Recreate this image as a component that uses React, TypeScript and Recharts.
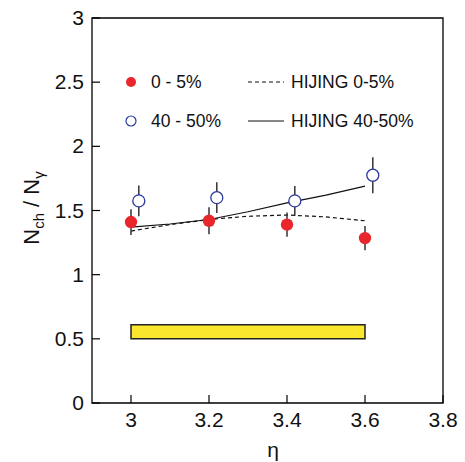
import {
  ComposedChart,
  Scatter,
  Line,
  XAxis,
  YAxis,
  ErrorBar,
  ReferenceArea,
} from "recharts";

const etaCentral = [3.0, 3.2, 3.4, 3.6];
const ratioCentral = [1.41, 1.42, 1.39, 1.285];
const errCentral = [0.1, 0.105, 0.095, 0.095];

const etaPeripheral = [3.02, 3.22, 3.42, 3.62];
const ratioPeripheral = [1.575, 1.6, 1.575, 1.775];
const errPeripheral = [0.12, 0.12, 0.115, 0.14];

const etaHijing = [3.0, 3.1, 3.2, 3.3, 3.4, 3.5, 3.6];
const hijingCentral = [1.34, 1.39, 1.43, 1.455, 1.465, 1.45, 1.42];
const hijingPeripheral = [1.37, 1.395, 1.43, 1.49, 1.56, 1.62, 1.69];

const sysBand = { x1: 3.0, x2: 3.6, y1: 0.5, y2: 0.61 };

const xTicks = [3, 3.2, 3.4, 3.6, 3.8];
const yTicks = [0, 0.5, 1, 1.5, 2, 2.5, 3];

const central = etaCentral.map((x, i) => ({ x, y: ratioCentral[i], err: errCentral[i] }));
const peripheral = etaPeripheral.map((x, i) => ({ x, y: ratioPeripheral[i], err: errPeripheral[i] }));
const hijing0 = etaHijing.map((x, i) => ({ x, y: hijingCentral[i] }));
const hijing40 = etaHijing.map((x, i) => ({ x, y: hijingPeripheral[i] }));

const FONT = "'Liberation Sans', Arial, Helvetica, sans-serif";

const XTick = (props: any) => {
  const { x, y, payload } = props;
  return (
    <g>
      <line x1={x} y1={y} x2={x} y2={y - 8} stroke="#000" strokeWidth={1.2} />
      <text x={x} y={y + 24} textAnchor="middle" fontSize={21} fontFamily={FONT} fill="#111">
        {payload.value}
      </text>
    </g>
  );
};

const YTick = (props: any) => {
  const { x, y, payload } = props;
  return (
    <g>
      <line x1={x} y1={y} x2={x + 8} y2={y} stroke="#000" strokeWidth={1.2} />
      <text x={x - 8} y={y + 7} textAnchor="end" fontSize={21} fontFamily={FONT} fill="#111">
        {payload.value}
      </text>
    </g>
  );
};

export default function App() {
  return (
    <div style={{ position: "absolute", left: 0, top: 0, width: 465, height: 462, background: "#fff" }}>
      <ComposedChart width={465} height={462} margin={{ top: 18, right: 22, bottom: 0, left: 32 }}>
        <XAxis
          dataKey="x"
          type="number"
          domain={[2.9, 3.8]}
          ticks={xTicks}
          allowDataOverflow
          axisLine={false}
          tickLine={false}
          tickSize={0}
          tickMargin={0}
          height={59}
          tick={<XTick />}
          interval={0}
        />
        <YAxis
          dataKey="y"
          type="number"
          domain={[0, 3]}
          ticks={yTicks}
          allowDataOverflow
          axisLine={false}
          tickLine={false}
          tickSize={0}
          tickMargin={0}
          width={60}
          tick={<YTick />}
          interval={0}
        />
        <ReferenceArea x1={2.9} x2={3.8} y1={0} y2={3} fill="none" stroke="#000" strokeWidth={1.3} />
        <ReferenceArea
          x1={sysBand.x1}
          x2={sysBand.x2}
          y1={sysBand.y1}
          y2={sysBand.y2}
          fill="#fae62c"
          fillOpacity={1}
          stroke="#222"
          strokeWidth={1.5}
        />
        <Line data={hijing0} dataKey="y" stroke="#111" strokeWidth={1.2} strokeDasharray="4 3" dot={false} isAnimationActive={false} />
        <Line data={hijing40} dataKey="y" stroke="#111" strokeWidth={1.2} dot={false} isAnimationActive={false} />
        <Scatter data={central} dataKey="y" fill="#e8262b" isAnimationActive={false}
          shape={(p: any) => <circle cx={p.cx} cy={p.cy} r={6.2} fill="#e8262b" />}>
          <ErrorBar dataKey="err" direction="y" width={0} stroke="#333" strokeWidth={1.5} />
        </Scatter>
        <Scatter data={peripheral} dataKey="y" fill="#fff" isAnimationActive={false}
          shape={(p: any) => <circle cx={p.cx} cy={p.cy} r={6} fill="#fff" stroke="#2a3a9e" strokeWidth={1.3} />}>
          <ErrorBar dataKey="err" direction="y" width={0} stroke="#333" strokeWidth={1.5} />
        </Scatter>
      </ComposedChart>
      <svg width={465} height={462} style={{ position: "absolute", left: 0, top: 0, pointerEvents: "none" }}>
        <g fontFamily={FONT} fill="#111">
          <circle cx={131} cy={82} r={5} fill="#e8262b" />
          <text x={151} y={88} fontSize={17.5}>0 - 5%</text>
          <circle cx={131} cy={121} r={5} fill="#fff" stroke="#2a3a9e" strokeWidth={1.2} />
          <text x={151} y={127} fontSize={17.5}>40 - 50%</text>
          <line x1={248} y1={82} x2={284} y2={82} stroke="#111" strokeWidth={1.2} strokeDasharray="4 3" />
          <text x={291} y={88} fontSize={17.5}>HIJING 0-5%</text>
          <line x1={248} y1={121} x2={284} y2={121} stroke="#111" strokeWidth={1.2} />
          <text x={291} y={127} fontSize={17.5}>HIJING 40-50%</text>
          <text x={273} y={457} fontSize={21} textAnchor="middle">η</text>
          <text transform="translate(39 208) rotate(-90)" fontSize={22} textAnchor="middle">
            N<tspan fontSize={15} dy={5}>ch</tspan>
            <tspan dy={-5}> / N</tspan>
            <tspan fontSize={15} dy={5}>γ</tspan>
          </text>
        </g>
      </svg>
    </div>
  );
}
